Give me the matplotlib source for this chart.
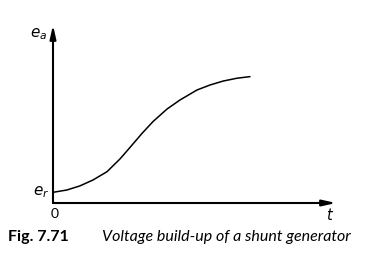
import matplotlib
matplotlib.use("Agg")
import matplotlib.pyplot as plt

# =========================
# 데이터
# =========================
t_vals = [0.0, 0.49, 0.95, 1.41, 1.91, 2.37, 2.72, 3.14, 3.53,
          4.03, 4.49, 5.09, 5.55, 6.01, 6.50, 6.96]
e_vals = [0.60, 0.73, 0.96, 1.29, 1.76, 2.48, 3.12, 3.90, 4.57,
          5.28, 5.79, 6.35, 6.63, 6.85, 7.01, 7.10]

caption_num = "Fig. 7.71"
caption_text = "Voltage build-up of a shunt generator"

plt.rcParams['font.family'] = ['Lato', 'DejaVu Sans']
plt.rcParams['mathtext.fontset'] = 'dejavusans'

# =========================
# 그림
# =========================
fig = plt.figure(figsize=(3.68, 2.61), dpi=100)
ax = fig.add_axes([53 / 368, 1 - 203 / 261, (336 - 53) / 368, (203 - 25) / 261])

ax.plot(t_vals, e_vals, color="black", linewidth=1.1,
        solid_capstyle="round", solid_joinstyle="round")

ax.set_xlim(0, 10)
ax.set_ylim(0, 10)
for s in ax.spines.values():
    s.set_visible(False)
ax.set_xticks([])
ax.set_yticks([])
ax.patch.set_alpha(0)

# 화살표 축
arrow = dict(arrowstyle="-|>,head_length=0.8,head_width=0.18", color="black",
             linewidth=1.5, shrinkA=0, shrinkB=0)
ax.annotate("", xy=(1, 0), xytext=(0, 0), xycoords="axes fraction",
            textcoords="axes fraction", arrowprops=arrow)
ax.annotate("", xy=(0, 1), xytext=(0, 0), xycoords="axes fraction",
            textcoords="axes fraction", arrowprops=arrow)

# 라벨
fig.text(0.106, 0.868, r"$e_a$", fontsize=11, ha="center", va="center")
fig.text(0.134, 0.262, r"$e_r$", fontsize=11, ha="right", va="center")
fig.text(0.149, 0.180, "0", fontsize=10, ha="center", va="center")
fig.text(0.897, 0.178, r"$t$", fontsize=10.5, ha="center", va="center")

fig.text(0.022, 0.092, caption_num, fontsize=11.5, fontweight="bold", ha="left", va="center")
fig.text(0.277, 0.092, caption_text, fontsize=11.5, style="italic", ha="left", va="center")

fig.savefig("out.png", dpi=100)
